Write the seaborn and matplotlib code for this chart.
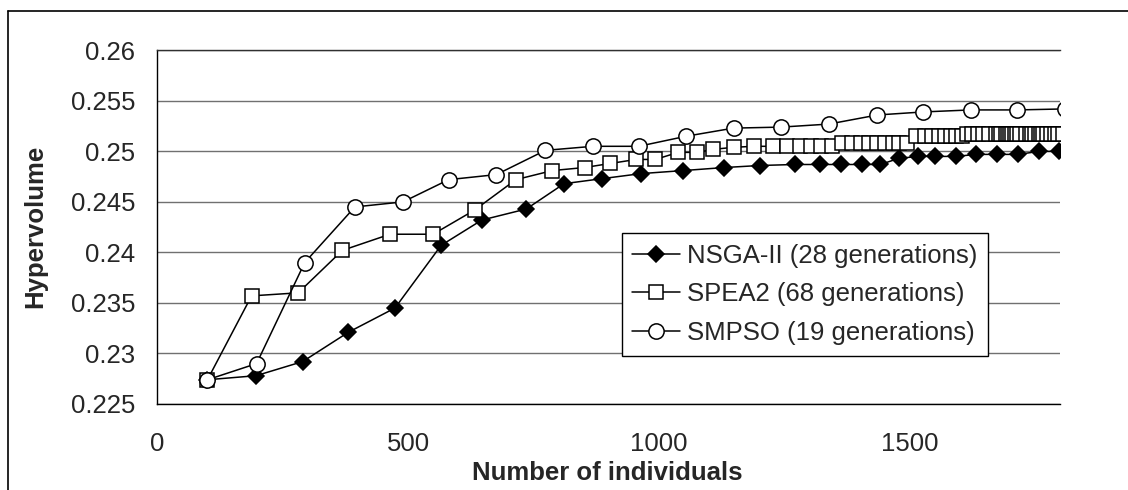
import matplotlib
matplotlib.use("Agg")
import matplotlib.pyplot as plt
from matplotlib.lines import Line2D
import seaborn as sns

# Hypervolume reached versus number of evaluated individuals
nsga_x = [100, 197, 290, 381, 474, 566, 647, 736, 811, 887, 965, 1049, 1131, 1201,
          1271, 1322, 1363, 1405, 1442, 1478, 1516, 1551, 1592, 1633, 1675, 1717,
          1758, 1798]
nsga_y = [0.2274, 0.2278, 0.2292, 0.2321, 0.2345, 0.2407, 0.2432, 0.2443, 0.2468,
          0.2473, 0.2478, 0.2481, 0.2484, 0.2486, 0.2487, 0.2487, 0.2487, 0.2487,
          0.2487, 0.2493, 0.2495, 0.2495, 0.2495, 0.2497, 0.2497, 0.2497, 0.2500,
          0.2500]

spea_x = [100, 188, 281, 369, 464, 550, 633, 715, 788, 852, 903, 955, 993, 1039,
          1076, 1109, 1149, 1189, 1227, 1255, 1281, 1303, 1323, 1345, 1365, 1385,
          1403, 1420, 1435, 1451, 1467, 1478, 1494, 1512, 1531, 1544, 1558, 1571,
          1583, 1592, 1604, 1614, 1624, 1636, 1647, 1659, 1673, 1678, 1683, 1693,
          1697, 1701, 1705, 1710, 1715, 1720, 1732, 1740, 1745, 1750, 1758, 1762,
          1767, 1775, 1783, 1790, 1797, 1805]
spea_y = ([0.2274, 0.2357, 0.2360, 0.2402, 0.2418, 0.2418, 0.2442, 0.2472, 0.2481,
           0.2484, 0.2488, 0.2492, 0.2492, 0.2499, 0.2499, 0.2502, 0.2504]
          + [0.2505] * 7 + [0.2508] * 9 + [0.2515] * 8 + [0.2517] * 27)

smpso_x = [100, 198, 294, 394, 490, 581, 676, 774, 869, 960, 1055, 1149, 1244,
           1339, 1436, 1527, 1622, 1715, 1810]
smpso_y = [0.2274, 0.2290, 0.2390, 0.2445, 0.2450, 0.2472, 0.2477, 0.2501, 0.2505,
           0.2505, 0.2515, 0.2523, 0.2524, 0.2527, 0.2536, 0.2539, 0.2541, 0.2541,
           0.2542]

series_labels = ["NSGA-II (28 generations)", "SPEA2 (68 generations)",
                 "SMPSO (19 generations)"]
x_ticks = [0, 500, 1000, 1500]
y_ticks = [0.225, 0.23, 0.235, 0.24, 0.245, 0.25, 0.255, 0.26]
y_tick_labels = ["0.225", "0.23", "0.235", "0.24", "0.245", "0.25", "0.255", "0.26"]

sns.set_style("white")
plt.rcParams["font.family"] = ["Liberation Sans", "DejaVu Sans"]
FS = 18.5

W, H = 1128, 490
fig = plt.figure(figsize=(W / 100, H / 100), dpi=100)
left, right, top, bottom = 157.3, 1060, 50.3, 404
ax = fig.add_axes([left / W, 1 - bottom / H, (right - left) / W, (bottom - top) / H])

marker_styles = [
    dict(marker="D", markerfacecolor="black", markersize=8.2),
    dict(marker="s", markerfacecolor="white", markersize=10.5),
    dict(marker="o", markerfacecolor="white", markersize=11),
]
series = [(nsga_x, nsga_y), (spea_x, spea_y), (smpso_x, smpso_y)]
for z, ((xs, ys), lab, st) in enumerate(zip(series, series_labels, marker_styles)):
    sns.lineplot(x=xs, y=ys, ax=ax, color="black", linewidth=1.1,
                 markeredgecolor="black", markeredgewidth=1.1,
                 label=lab, zorder=3 + z, **st)

ax.set_xlim(0, 1800)
ax.set_ylim(0.225, 0.26)
ax.set_xticks(x_ticks)
ax.set_xticklabels([str(t) for t in x_ticks], fontsize=FS)
ax.set_yticks(y_ticks)
ax.set_yticklabels(y_tick_labels, fontsize=FS)
ax.tick_params(axis="x", direction="out", length=6, width=1, color="black", pad=14)
ax.tick_params(axis="y", direction="out", length=6, width=1, color="black", pad=10)
ax.yaxis.grid(True, color="#707070", linewidth=1.0)
ax.xaxis.grid(False)
for side in ("left", "bottom"):
    ax.spines[side].set_color("black")
    ax.spines[side].set_linewidth(1.0)
ax.spines["right"].set_visible(False)
ax.spines["top"].set_color("#303030")
ax.spines["top"].set_linewidth(1.0)
ax.set_xlabel("")
ax.set_ylabel("")

handles, labs = ax.get_legend_handles_labels()
leg = ax.legend(handles, labs, loc="upper left",
                bbox_to_anchor=((621.7 - left) / (right - left), (bottom - 233.3) / (bottom - top)),
                fontsize=FS, frameon=True, fancybox=False, shadow=False, framealpha=1,
                edgecolor="black", borderpad=0.4, labelspacing=0.58,
                handlelength=1.85, handletextpad=0.3, borderaxespad=0)
leg.get_frame().set_linewidth(1.0)
leg.set_zorder(10)

fig.text(607.5 / W, 1 - 480 / H, "Number of individuals", ha="center", va="baseline",
         fontsize=FS, fontweight="bold")
fig.text(35 / W, 1 - 226.7 / H, "Hypervolume", ha="center", va="center",
         rotation=90, fontsize=FS, fontweight="bold")

# chart-area border (open on the right and bottom)
fig.add_artist(Line2D([8 / W, 8 / W], [-0.01, 1 - 11 / H], transform=fig.transFigure,
                      color="black", linewidth=1.2))
fig.add_artist(Line2D([8 / W, 1.01], [1 - 11 / H, 1 - 11 / H], transform=fig.transFigure,
                      color="black", linewidth=1.2))

fig.savefig("out.png", dpi=100)
